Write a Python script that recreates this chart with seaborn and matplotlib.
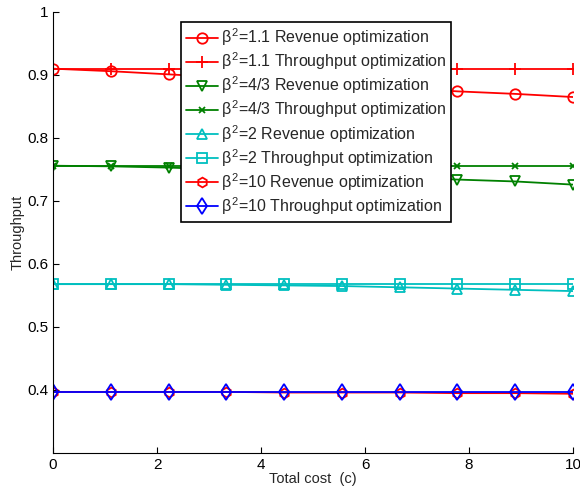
import numpy as np
import pandas as pd
import matplotlib
matplotlib.use("Agg")
import matplotlib.pyplot as plt
import seaborn as sns

sns.set_theme(style="white")
plt.rcParams["font.family"] = ["Liberation Sans", "DejaVu Sans"]

cost = [0.0, 1.111, 2.222, 3.333, 4.444, 5.556, 6.667, 7.778, 8.889, 10.0]

rev_11 = [0.910, 0.906, 0.901, 0.896, 0.891, 0.886, 0.880, 0.874, 0.870, 0.865]
thr_11 = [0.909, 0.909, 0.909, 0.909, 0.909, 0.909, 0.909, 0.909, 0.909, 0.909]
rev_43 = [0.756, 0.755, 0.753, 0.750, 0.746, 0.742, 0.738, 0.734, 0.731, 0.726]
thr_43 = [0.756, 0.756, 0.756, 0.756, 0.756, 0.756, 0.756, 0.756, 0.756, 0.756]
rev_2 = [0.568, 0.568, 0.568, 0.567, 0.566, 0.565, 0.563, 0.561, 0.559, 0.557]
thr_2 = [0.568, 0.568, 0.568, 0.568, 0.568, 0.568, 0.568, 0.568, 0.568, 0.568]
rev_10 = [0.397, 0.397, 0.397, 0.397, 0.396, 0.396, 0.396, 0.395, 0.395, 0.394]
thr_10 = [0.397, 0.397, 0.397, 0.397, 0.397, 0.397, 0.397, 0.397, 0.397, 0.397]

labels = [
    r"$\beta^2$=1.1 Revenue optimization",
    r"$\beta^2$=1.1 Throughput optimization",
    r"$\beta^2$=4/3 Revenue optimization",
    r"$\beta^2$=4/3 Throughput optimization",
    r"$\beta^2$=2 Revenue optimization",
    r"$\beta^2$=2 Throughput optimization",
    r"$\beta^2$=10 Revenue optimization",
    r"$\beta^2$=10 Throughput optimization",
]
series = [rev_11, thr_11, rev_43, thr_43, rev_2, thr_2, rev_10, thr_10]
colors = ["#ff0000", "#ff0000", "#008000", "#008000",
          "#00bfbf", "#00bfbf", "#ff0000", "#0000ff"]
markers = ["o", "+", "v", "x", "^", "s", "h", "d"]
msizes = [7.5, 8, 7.5, 5, 7.5, 6.5, 7, 8]

plt.rcParams["mathtext.fontset"] = "custom"
plt.rcParams["mathtext.rm"] = "Liberation Sans"
plt.rcParams["mathtext.it"] = "Liberation Sans"

fig = plt.figure(figsize=(5.8, 4.91), dpi=100)
ax = fig.add_axes([0.0914, 0.0774, 0.8966, 0.8982])

for lab, ys, c, m, ms in zip(labels, series, colors, markers, msizes):
    df = pd.DataFrame({"cost": cost, "thr": ys})
    sns.lineplot(data=df, x="cost", y="thr", ax=ax, color=c, marker=m,
                 markersize=ms, markerfacecolor="none", markeredgecolor=c,
                 markeredgewidth=1.3, linewidth=1.3, label=lab)

ax.set_xlim(0, 10)
ax.set_ylim(0.3, 1.0)
ax.set_xticks([0, 2, 4, 6, 8, 10])
ax.set_yticks([0.4, 0.5, 0.6, 0.7, 0.8, 0.9, 1.0])
ax.set_yticklabels(["0.4", "0.5", "0.6", "0.7", "0.8", "0.9", "1"])
ax.set_xlabel("Total cost  (c)", fontsize=10.5, labelpad=0)
ax.set_ylabel("Throughput", fontsize=10.5, labelpad=2)
ax.tick_params(axis="both", direction="in", length=4, width=0.8,
               labelsize=11, colors="black", bottom=True, left=True)
for side in ["top", "right"]:
    ax.spines[side].set_visible(False)
for side in ["left", "bottom"]:
    ax.spines[side].set_color("black")
    ax.spines[side].set_linewidth(0.8)

leg = ax.legend(loc="upper left", bbox_to_anchor=(0.246, 0.978), fontsize=11.5,
                frameon=True, fancybox=False, framealpha=1.0,
                handlelength=2.0, handletextpad=0.2, labelspacing=0.15,
                borderpad=0.3, borderaxespad=0)
leg.get_frame().set_edgecolor("black")
leg.get_frame().set_linewidth(1.2)

fig.savefig("out.png", dpi=100)
